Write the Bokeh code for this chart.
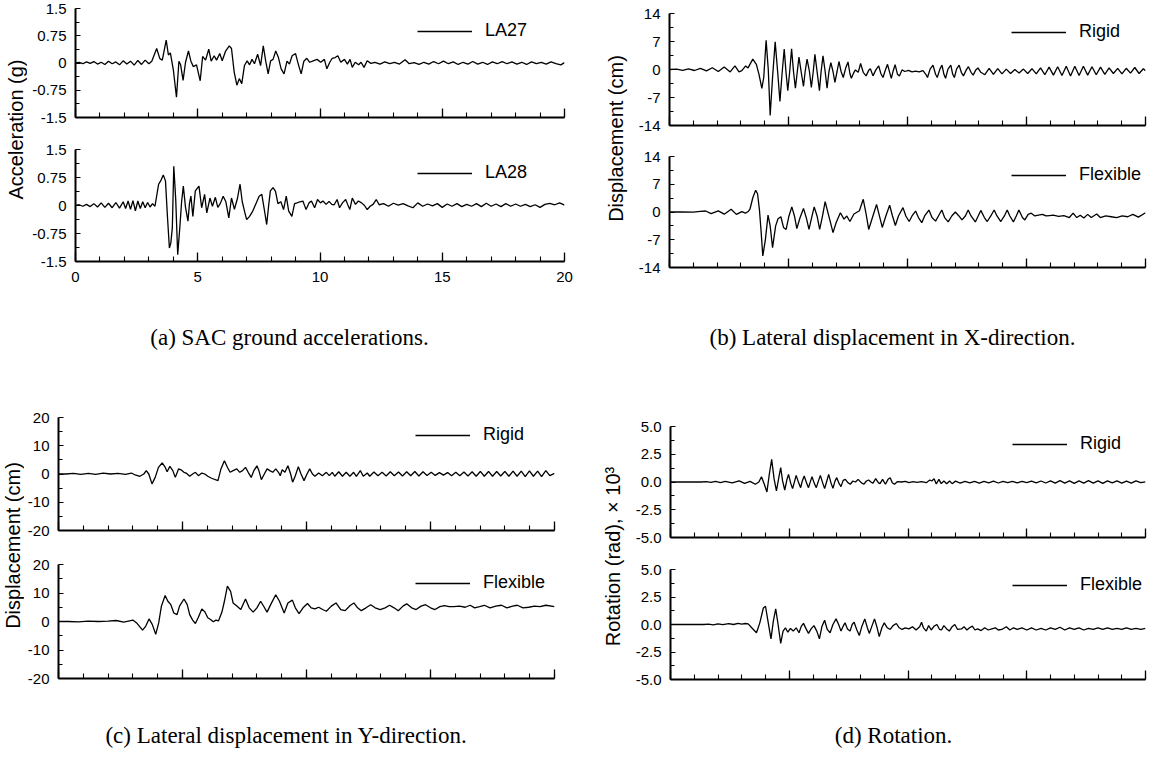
from bokeh.plotting import figure
from bokeh.models import Range1d, FixedTicker, Label, Legend, LegendItem, ColumnDataSource
from bokeh.layouts import row, column
from bokeh.embed import file_html
from bokeh.resources import INLINE

SANS = "Liberation Sans"
SERIF = "Liberation Serif"

# ---------------- data (time s, value) ----------------
X_MAJOR = [0, 5, 10, 15, 20]
X_MINOR = list(range(0, 21))
X_LABELS = ["0", "5", "10", "15", "20"]

ACC_TICKS = [-1.5, -0.75, 0.0, 0.75, 1.5]
ACC_MINOR = [-1.125, -0.375, 0.375, 1.125]
ACC_LABELS = ["-1.5", "-0.75", "0", "0.75", "1.5"]

DX_TICKS = [-14, -7, 0, 7, 14]
DX_MINOR = [-10.5, -3.5, 3.5, 10.5]
DX_LABELS = ["-14", "-7", "0", "7", "14"]

DY_TICKS = [-20, -10, 0, 10, 20]
DY_MINOR = [-15, -5, 5, 15]
DY_LABELS = ["-20", "-10", "0", "10", "20"]

ROT_TICKS = [-5.0, -2.5, 0.0, 2.5, 5.0]
ROT_MINOR = [-3.75, -1.25, 1.25, 3.75]
ROT_LABELS = ["-5.0", "-2.5", "0.0", "2.5", "5.0"]

LA27 = [[0,0],[0.15,0.02],[0.3,-0.02],[0.45,0.03],[0.6,-0.01],[0.75,0.04],[0.9,-0.03],[1.05,0.02],
 [1.2,-0.04],[1.35,0.05],[1.5,-0.02],[1.65,0.03],[1.8,-0.05],[1.95,0.06],[2.1,-0.03],[2.25,0.05],
 [2.4,-0.06],[2.55,0.07],[2.7,-0.04],[2.85,0.08],[3.0,-0.02],[3.12,0.05],[3.32,0.40],[3.45,0.12],
 [3.55,0.08],[3.71,0.63],[3.80,0.22],[3.88,0.28],[4.00,-0.18],[4.13,-0.94],[4.23,0.05],[4.30,-0.05],
 [4.40,-0.48],[4.50,0.02],[4.62,0.33],[4.72,0.05],[4.82,-0.10],[4.95,-0.05],[5.10,-0.49],[5.20,0.18],
 [5.32,0.08],[5.45,0.38],[5.55,0.05],[5.67,0.20],[5.77,0.08],[5.90,0.26],[6.00,0.06],[6.14,0.33],
 [6.29,0.47],[6.38,0.40],[6.49,-0.25],[6.60,-0.61],[6.70,-0.43],[6.80,-0.57],[6.91,-0.07],[7.02,0.06],
 [7.12,-0.05],[7.22,0.10],[7.32,-0.02],[7.45,0.24],[7.57,-0.07],[7.68,0.47],[7.78,0.05],[7.88,-0.30],
 [7.98,0.06],[8.08,0.10],[8.19,0.33],[8.30,0.15],[8.41,-0.16],[8.53,-0.30],[8.65,0.05],[8.75,-0.03],
 [8.86,0.20],[9.00,0.26],[9.12,-0.05],[9.23,-0.30],[9.34,0.05],[9.46,0.13],[9.58,0.02],[9.72,0.06],
 [9.88,0.10],[10.03,0.02],[10.18,0.10],[10.28,-0.16],[10.40,0.02],[10.50,0.13],[10.62,0.15],[10.73,0.20],
 [10.85,0.02],[11.00,0.10],[11.12,-0.03],[11.23,0.10],[11.32,-0.12],[11.44,0.02],[11.58,-0.05],[11.68,0.02],
 [11.80,-0.12],[11.93,0.06],[12.08,-0.01],[12.25,0.02],[12.45,-0.03],[12.65,0.03],[12.85,-0.02],[13.05,0.02],
 [13.25,-0.03],[13.48,0.09],[13.65,-0.02],[13.85,0.01],[14.05,-0.04],[14.25,0.02],[14.45,-0.03],[14.65,0.04],
 [14.85,-0.02],[15.05,0.05],[15.25,-0.02],[15.45,0.03],[15.65,-0.04],[15.85,0.02],[16.05,-0.03],[16.25,0.04],
 [16.45,-0.03],[16.65,0.02],[16.85,-0.04],[17.05,0.03],[17.25,-0.02],[17.45,0.04],[17.65,-0.02],[17.85,0.03],
 [18.05,-0.03],[18.25,0.02],[18.45,-0.04],[18.65,0.03],[18.85,-0.02],[19.05,0.02],[19.25,-0.03],[19.45,0.03],
 [19.65,-0.02],[19.85,-0.05],[20.0,0.01]]

LA28 = [[0,0],[0.15,0.02],[0.3,-0.02],[0.45,0.03],[0.6,-0.03],[0.75,0.05],[0.9,-0.04],[1.05,0.07],
 [1.2,-0.05],[1.35,0.06],[1.5,-0.06],[1.65,0.08],[1.8,-0.07],[1.95,0.10],[2.05,-0.08],[2.15,0.12],
 [2.25,-0.10],[2.35,0.13],[2.45,-0.14],[2.55,0.12],[2.65,-0.08],[2.75,0.10],[2.85,-0.06],[2.95,0.08],
 [3.05,-0.04],[3.15,0.05],[3.25,-0.02],[3.40,0.57],[3.50,0.68],[3.59,0.82],[3.68,0.66],[3.76,-0.29],
 [3.84,-1.14],[3.90,-1.00],[3.96,-0.60],[4.02,1.05],[4.10,0.15],[4.18,-1.32],[4.27,-0.56],[4.34,0.10],
 [4.41,0.52],[4.50,-0.05],[4.60,-0.42],[4.66,0.05],[4.72,0.25],[4.80,-0.29],[4.90,0.39],[5.05,0.52],
 [5.16,-0.06],[5.28,0.30],[5.37,-0.20],[5.50,0.20],[5.60,-0.02],[5.72,0.22],[5.82,-0.05],[5.92,0.05],
 [6.04,0.25],[6.15,0.10],[6.27,-0.33],[6.38,0.20],[6.50,-0.10],[6.62,0.18],[6.73,0.57],[6.82,0.10],
 [6.93,-0.20],[7.00,-0.38],[7.12,-0.29],[7.25,-0.15],[7.38,0.05],[7.51,0.25],[7.62,0.30],[7.72,-0.10],
 [7.82,-0.51],[7.90,0.00],[7.97,0.39],[8.08,0.48],[8.18,0.38],[8.28,0.05],[8.40,0.10],[8.51,-0.11],
 [8.62,0.25],[8.72,-0.15],[8.85,-0.29],[8.96,0.05],[9.06,0.07],[9.18,0.10],[9.30,0.12],[9.43,-0.11],
 [9.55,0.07],[9.65,0.12],[9.78,-0.06],[9.90,0.16],[10.02,0.07],[10.12,0.12],[10.25,0.03],[10.37,0.11],
 [10.48,0.03],[10.58,0.02],[10.70,0.16],[10.80,-0.06],[10.92,0.07],[11.05,0.16],[11.13,0.03],[11.22,-0.11],
 [11.32,0.20],[11.45,0.03],[11.57,0.12],[11.70,0.07],[11.82,0.00],[11.93,-0.11],[12.05,-0.02],[12.17,0.03],
 [12.30,0.16],[12.42,0.02],[12.6,0.05],[12.8,-0.02],[13.0,0.06],[13.2,0.01],[13.4,0.05],[13.6,-0.01],
 [13.8,-0.06],[14.0,0.07],[14.2,-0.02],[14.4,0.04],[14.6,-0.01],[14.8,0.05],[15.0,-0.05],[15.2,0.04],
 [15.4,-0.02],[15.6,0.05],[15.8,-0.03],[16.0,0.03],[16.2,-0.02],[16.4,0.05],[16.6,-0.03],[16.8,0.06],
 [17.0,-0.02],[17.2,0.04],[17.4,-0.03],[17.6,0.05],[17.8,-0.02],[18.0,0.04],[18.2,-0.02],[18.4,0.03],
 [18.6,-0.03],[18.8,0.02],[19.0,-0.05],[19.2,0.03],[19.4,0.06],[19.6,0.02],[19.8,0.07],[20.0,0.01]]

RIGID_X = [[0,0],[0.3,0.1],[0.55,-0.2],[0.8,0.15],[1.05,-0.25],[1.3,0.3],[1.55,-0.35],[1.8,0.45],
 [2.05,-0.5],[2.3,0.6],[2.55,-0.6],[2.75,0.9],[2.92,-0.6],[3.04,-0.3],[3.20,0.9],[3.30,0.4],[3.50,2.6],
 [3.65,1.3],[3.76,-1.2],[3.88,-4.7],[3.96,-2.0],[4.06,7.3],[4.15,0.0],[4.23,-11.5],[4.33,-2.0],[4.44,6.9],
 [4.55,-1.0],[4.64,-8.0],[4.73,-1.0],[4.82,5.1],[4.90,-1.0],[4.97,-5.3],[5.05,-0.5],[5.13,5.2],[5.21,-0.5],
 [5.29,-4.7],[5.37,-0.5],[5.44,3.1],[5.53,-0.5],[5.63,-4.2],[5.70,-0.5],[5.78,2.6],[5.88,-0.5],[5.96,-4.5],
 [6.04,-0.5],[6.11,3.8],[6.20,-0.5],[6.30,-5.3],[6.37,-0.5],[6.45,3.4],[6.54,-0.5],[6.62,-4.7],[6.70,-0.5],
 [6.78,1.7],[6.87,-0.5],[6.95,-3.2],[7.04,-0.5],[7.12,2.0],[7.21,-0.5],[7.30,-2.0],[7.40,0.3],[7.50,1.9],
 [7.58,-1.0],[7.64,-2.2],[7.75,-0.7],[7.81,-0.1],[7.93,-0.7],[8.03,1.5],[8.14,-0.7],[8.26,-1.6],[8.38,-0.1],
 [8.44,0.2],[8.55,-1.6],[8.67,-0.1],[8.79,0.9],[8.88,-1.0],[8.97,-2.0],[9.06,-0.3],[9.16,1.3],[9.25,-0.7],
 [9.32,-2.2],[9.40,-0.3],[9.48,1.2],[9.58,-1.2],[9.66,-1.6],[9.77,-0.1],[9.89,-0.5],[10.04,-0.2],[10.19,-0.6],
 [10.34,-0.4],[10.49,-0.6],[10.65,-0.3],[10.77,-1.2],[10.84,-2.0],[10.95,0.1],[11.07,1.1],[11.18,-1.2],
 [11.25,-2.0],[11.36,0.1],[11.45,1.1],[11.53,-1.2],[11.60,-2.2],[11.70,0.1],[11.82,1.1],[11.90,-1.2],
 [11.97,-2.0],[12.06,0.1],[12.17,1.1],[12.26,-0.7],[12.35,-1.6],[12.47,-0.1],[12.56,0.7],[12.67,-0.7],
 [12.76,-1.4],[12.87,-0.1],[12.96,0.4],[13.08,-0.7],[13.25,-1.3],[13.43,0.3],[13.61,-1.2],[13.79,0.2],
 [13.97,-1.1],[14.15,0.1],[14.33,-1.0],[14.51,0.0],[14.69,-0.9],[14.87,0.1],[15.05,-1.0],[15.23,0.2],
 [15.41,-1.1],[15.59,0.4],[15.77,-1.3],[15.95,0.6],[16.13,-1.4],[16.31,0.7],[16.49,-1.5],[16.67,0.8],
 [16.85,-1.6],[17.03,0.8],[17.21,-1.5],[17.39,0.8],[17.57,-1.4],[17.75,0.7],[17.93,-1.3],[18.11,0.6],
 [18.29,-1.2],[18.47,0.4],[18.65,-1.0],[18.83,0.3],[19.01,-1.1],[19.19,0.3],[19.37,-0.9],[19.55,0.5],
 [19.73,-1.0],[19.91,0.2],[20.0,-0.3]]

FLEX_X = [[0,0],[0.5,0.05],[1.0,-0.05],[1.3,0.15],[1.52,0.25],[1.75,-0.4],[2.05,0.3],[2.3,-0.55],
 [2.59,0.7],[2.81,-0.6],[3.04,0.1],[3.19,-0.3],[3.32,0.2],[3.38,0.7],[3.50,3.6],[3.62,5.5],[3.70,4.6],
 [3.78,0.5],[3.85,-5.0],[3.92,-11.1],[4.03,-6.9],[4.14,-0.8],[4.23,-3.5],[4.33,-9.0],[4.46,-3.5],
 [4.56,-1.7],[4.68,-1.2],[4.79,-3.9],[4.90,-4.4],[5.02,-1.0],[5.14,1.3],[5.25,-1.0],[5.35,-4.2],
 [5.48,-1.5],[5.63,0.9],[5.75,-1.5],[5.86,-4.4],[5.97,-1.5],[6.08,1.3],[6.20,-1.0],[6.31,-4.4],
 [6.43,-1.0],[6.54,2.6],[6.66,-0.2],[6.80,-3.5],[6.87,-5.2],[7.00,-2.7],[7.18,-0.2],[7.33,-1.8],
 [7.45,-1.0],[7.58,-2.4],[7.75,-0.5],[7.98,0.3],[8.14,3.2],[8.26,-0.5],[8.37,-4.4],[8.52,-1.5],
 [8.70,1.9],[8.82,-1.0],[8.94,-3.9],[9.09,-1.0],[9.25,1.7],[9.37,-1.0],[9.49,-3.4],[9.62,-1.0],
 [9.81,1.1],[9.93,-1.0],[10.07,-2.4],[10.19,-1.0],[10.34,0.25],[10.46,-1.4],[10.60,-2.7],[10.72,-1.0],
 [10.90,0.5],[11.03,-1.4],[11.18,-2.3],[11.30,-1.0],[11.44,0.5],[11.56,-1.4],[11.71,-2.5],[11.86,-1.0],
 [12.01,0.0],[12.16,-1.0],[12.29,-2.0],[12.43,-1.0],[12.55,0.5],[12.67,-1.0],[12.85,-2.5],[12.97,-1.0],
 [13.08,0.4],[13.23,-1.4],[13.35,-2.4],[13.50,-1.0],[13.64,0.5],[13.76,-1.0],[13.92,-2.4],[14.07,-1.0],
 [14.19,0.5],[14.30,-1.0],[14.45,-2.5],[14.57,-1.0],[14.68,0.5],[14.83,-1.4],[14.93,-2.0],[15.07,-0.6],
 [15.20,-0.3],[15.35,-1.0],[15.50,-0.8],[15.67,-0.6],[15.82,-1.0],[15.97,-0.9],[16.12,-0.8],[16.35,-1.1],
 [16.57,-0.9],[16.80,-1.4],[16.96,-0.3],[17.11,-1.4],[17.26,-0.8],[17.41,-1.5],[17.57,-0.6],[17.72,-1.4],
 [17.95,-0.5],[18.10,-1.4],[18.33,-1.0],[18.56,-1.2],[18.79,-1.4],[19.02,-1.0],[19.25,-1.2],[19.47,-0.6],
 [19.70,-1.3],[20.0,-0.2]]

RIGID_Y = [[0,0],[0.3,0.0],[0.6,0.2],[0.9,-0.1],[1.2,0.2],[1.5,-0.1],[1.8,0.3],[2.1,0.0],[2.4,0.2],
 [2.7,-0.1],[2.94,0.35],[3.09,-0.35],[3.28,-0.8],[3.44,0.0],[3.54,1.2],[3.64,0.0],[3.77,-3.5],[3.90,-1.2],
 [4.03,2.35],[4.18,3.9],[4.30,2.4],[4.38,0.8],[4.49,2.7],[4.61,1.2],[4.71,-1.2],[4.84,1.8],[4.94,1.5],
 [5.06,0.6],[5.17,0.2],[5.29,-0.8],[5.41,0.0],[5.52,0.6],[5.64,-0.6],[5.78,0.35],[5.90,0.0],[6.02,-0.8],
 [6.17,-1.5],[6.43,-2.35],[6.55,1.8],[6.69,4.7],[6.81,2.4],[6.92,0.6],[7.04,1.2],[7.19,1.8],[7.31,0.6],
 [7.42,1.2],[7.54,2.35],[7.65,0.6],[7.77,-1.2],[7.88,1.2],[8.00,2.9],[8.08,1.2],[8.18,-2.0],[8.30,0.0],
 [8.41,1.8],[8.52,1.2],[8.64,0.6],[8.76,1.8],[8.87,0.6],[8.94,-0.6],[9.02,1.5],[9.13,0.6],[9.25,2.9],
 [9.36,0.0],[9.44,-2.9],[9.55,-0.6],[9.67,2.6],[9.78,0.0],[9.90,-2.35],[10.02,0.0],[10.13,1.8],[10.24,0.0],
 [10.34,-0.8],[10.49,0.35],[10.64,-0.6],[10.80,0.6],[10.92,-0.6],[11.04,0.6],[11.14,-0.8],[11.30,0.8],
 [11.45,-0.8],[11.60,0.6],[11.75,-0.8],[11.90,0.6],[12.01,-0.8],[12.17,1.2],[12.29,-0.8],[12.45,0.35],
 [12.55,-0.8],[12.72,0.7],[12.88,-0.6],[13.05,0.6],[13.21,-0.7],[13.38,0.8],[13.54,-0.6],[13.71,0.7],
 [13.87,-0.7],[14.04,0.8],[14.20,-0.6],[14.37,0.9],[14.53,-0.7],[14.70,0.8],[14.86,-0.5],[15.03,0.6],
 [15.19,-0.5],[15.36,0.5],[15.52,-0.4],[15.69,0.5],[15.85,-0.6],[16.02,0.6],[16.18,-0.6],[16.35,0.7],
 [16.51,-0.7],[16.68,0.8],[16.84,-0.8],[17.01,0.9],[17.17,-0.8],[17.34,0.9],[17.50,-0.8],[17.67,0.9],
 [17.83,-0.7],[18.00,0.9],[18.16,-0.8],[18.33,1.0],[18.49,-0.8],[18.66,1.0],[18.82,-0.9],[18.99,1.1],
 [19.15,-0.8],[19.32,1.0],[19.48,-0.9],[19.65,1.2],[19.81,-0.6],[20.0,0.2]]

FLEX_Y = [[0,0],[0.4,0.0],[0.8,-0.1],[1.2,0.1],[1.6,0.0],[2.0,0.1],[2.33,0.35],[2.63,-0.2],[3.0,0.5],
 [3.15,-0.5],[3.39,-3.0],[3.52,-1.6],[3.65,0.9],[3.78,-1.0],[3.92,-4.5],[4.04,-0.5],[4.15,5.4],[4.30,9.1],
 [4.41,7.1],[4.53,5.9],[4.65,3.0],[4.78,2.4],[4.88,5.4],[5.06,7.9],[5.19,5.9],[5.29,2.4],[5.41,0.5],
 [5.52,-0.7],[5.63,1.3],[5.78,4.4],[5.90,3.4],[6.02,1.3],[6.13,0.7],[6.24,-0.1],[6.35,0.5],[6.45,0.2],
 [6.59,3.3],[6.69,7.1],[6.81,12.4],[6.94,10.6],[7.04,6.5],[7.19,5.4],[7.35,4.2],[7.54,7.9],[7.69,4.8],
 [7.85,3.3],[8.00,4.8],[8.15,7.1],[8.29,5.1],[8.41,3.3],[8.56,6.0],[8.76,9.4],[8.91,7.1],[9.10,3.0],
 [9.25,6.5],[9.43,7.5],[9.55,4.8],[9.70,2.8],[9.86,4.8],[10.04,6.3],[10.19,4.8],[10.34,4.4],[10.49,5.0],
 [10.65,4.2],[10.80,3.6],[11.00,5.4],[11.19,6.5],[11.38,4.2],[11.56,3.8],[11.76,5.6],[11.91,6.5],
 [12.06,4.8],[12.21,3.8],[12.40,4.8],[12.59,5.9],[12.77,4.8],[12.97,4.2],[13.17,4.8],[13.35,5.7],
 [13.53,4.8],[13.70,3.8],[13.89,5.4],[14.04,6.2],[14.24,4.8],[14.42,4.2],[14.62,5.4],[14.80,5.9],
 [15.00,4.8],[15.18,4.2],[15.38,5.2],[15.56,5.6],[15.75,5.2],[15.94,5.2],[16.17,5.4],[16.40,5.0],
 [16.60,5.7],[16.78,4.8],[16.98,5.2],[17.17,5.7],[17.40,4.8],[17.63,5.4],[17.86,5.7],[18.08,4.8],
 [18.31,5.4],[18.50,5.7],[18.73,4.8],[18.96,5.0],[19.19,5.4],[19.42,5.2],[19.65,5.7],[20.0,5.2]]

RIGID_R = [[0,0],[1.3,0.0],[1.5,0.03],[1.7,-0.04],[1.9,0.05],[2.1,-0.05],[2.3,0.06],[2.6,-0.07],
 [2.89,0.1],[3.12,-0.12],[3.35,0.06],[3.57,-0.2],[3.72,0.0],[3.83,0.48],[3.95,-0.2],[4.06,-0.9],
 [4.16,0.7],[4.26,2.04],[4.36,0.3],[4.46,-0.81],[4.56,0.4],[4.64,1.29],[4.72,0.1],[4.81,-0.72],
 [4.90,0.2],[4.97,0.69],[5.06,-0.1],[5.14,-0.6],[5.23,0.1],[5.29,0.6],[5.40,-0.1],[5.48,-0.51],
 [5.55,0.1],[5.63,0.54],[5.73,-0.1],[5.81,-0.51],[5.90,0.1],[5.96,0.48],[6.05,-0.1],[6.14,-0.51],
 [6.23,0.1],[6.31,0.6],[6.41,-0.1],[6.49,-0.6],[6.57,0.0],[6.66,0.69],[6.76,-0.1],[6.84,-0.57],
 [6.93,0.1],[7.00,0.39],[7.09,-0.1],[7.18,-0.42],[7.27,0.15],[7.36,0.24],[7.47,-0.06],[7.57,-0.2],
 [7.68,0.09],[7.79,0.0],[7.90,0.24],[8.03,-0.06],[8.14,-0.2],[8.25,0.09],[8.34,0.18],[8.44,0.0],
 [8.52,-0.12],[8.64,0.3],[8.75,-0.06],[8.82,-0.15],[8.93,0.24],[9.05,-0.2],[9.16,0.24],[9.25,0.39],
 [9.34,-0.06],[9.43,-0.2],[9.55,0.03],[9.73,0.0],[9.89,0.06],[10.04,-0.06],[10.22,0.03],[10.37,-0.03],
 [10.57,0.03],[10.77,-0.06],[10.92,0.18],[11.00,0.09],[11.10,0.3],[11.19,-0.18],[11.30,0.24],
 [11.40,-0.15],[11.51,0.09],[11.63,-0.15],[11.75,0.09],[11.86,-0.15],[12.0,0.08],[12.2,-0.1],
 [12.4,0.06],[12.6,-0.08],[12.8,0.06],[13.0,-0.1],[13.2,0.05],[13.4,-0.08],[13.6,0.07],[13.8,-0.09],
 [14.0,0.05],[14.2,-0.06],[14.4,0.05],[14.6,-0.07],[14.8,0.06],[15.0,-0.05],[15.2,0.07],[15.4,-0.08],
 [15.6,0.09],[15.8,-0.09],[16.0,0.1],[16.2,-0.1],[16.4,0.12],[16.6,-0.1],[16.8,0.1],[17.0,-0.12],
 [17.2,0.1],[17.4,-0.1],[17.6,0.12],[17.8,-0.1],[18.0,0.1],[18.2,-0.12],[18.4,0.1],[18.6,-0.08],
 [18.8,0.1],[19.0,-0.1],[19.2,0.08],[19.4,-0.1],[19.6,0.1],[19.8,-0.06],[20.0,0.02]]

FLEX_R = [[0,0],[1.4,0.0],[1.6,0.04],[1.8,-0.03],[2.0,0.06],[2.2,-0.02],[2.45,0.08],[2.65,0.0],
 [2.85,0.1],[3.0,0.03],[3.15,0.09],[3.27,0.06],[3.42,-0.3],[3.62,-0.75],[3.76,0.15],[3.91,1.5],
 [4.00,1.66],[4.12,0.1],[4.23,-1.3],[4.33,0.3],[4.43,1.42],[4.53,0.0],[4.64,-1.72],[4.74,-0.6],
 [4.84,-0.3],[4.94,-0.7],[5.05,-0.36],[5.17,-0.6],[5.29,-0.3],[5.41,-0.75],[5.51,-0.15],[5.60,0.1],
 [5.71,-0.4],[5.81,-0.81],[5.92,-0.4],[6.04,-0.1],[6.16,-0.6],[6.27,-1.3],[6.38,-0.15],[6.49,0.39],
 [6.60,-0.45],[6.72,-0.75],[6.84,0.0],[6.97,0.51],[7.08,0.0],[7.18,-0.6],[7.27,-0.15],[7.35,0.15],
 [7.45,-0.4],[7.56,-0.6],[7.65,0.0],[7.73,0.21],[7.84,-0.45],[7.95,-1.0],[8.06,-0.15],[8.18,0.51],
 [8.29,-0.3],[8.37,-0.81],[8.48,-0.15],[8.59,0.51],[8.70,-0.3],[8.79,-1.1],[8.90,-0.3],[9.00,0.15],
 [9.13,-0.3],[9.25,-0.45],[9.37,-0.1],[9.51,0.09],[9.63,-0.3],[9.75,-0.45],[9.89,-0.3],[10.04,-0.4],
 [10.19,-0.2],[10.34,-0.5],[10.49,-0.2],[10.57,0.21],[10.65,-0.3],[10.77,-0.6],[10.87,-0.1],[10.98,-0.5],
 [11.10,-0.15],[11.22,0.0],[11.33,-0.45],[11.41,-0.5],[11.51,-0.1],[11.63,-0.4],[11.74,-0.6],[11.86,-0.2],
 [11.97,0.0],[12.09,-0.45],[12.25,-0.4],[12.36,-0.2],[12.48,-0.5],[12.59,-0.3],[12.71,-0.15],[12.82,-0.5],
 [12.93,-0.4],[13.08,-0.55],[13.23,-0.3],[13.38,-0.5],[13.53,-0.4],[13.68,-0.3],[13.80,-0.5],[13.95,-0.45],
 [14.14,-0.2],[14.29,-0.5],[14.44,-0.3],[14.6,-0.45],[14.8,-0.3],[15.0,-0.5],[15.2,-0.3],[15.4,-0.5],
 [15.6,-0.35],[15.8,-0.5],[16.0,-0.3],[16.2,-0.45],[16.4,-0.25],[16.6,-0.5],[16.8,-0.3],[17.0,-0.45],
 [17.2,-0.3],[17.4,-0.5],[17.6,-0.35],[17.8,-0.45],[18.0,-0.3],[18.2,-0.45],[18.4,-0.3],[18.6,-0.45],
 [18.8,-0.35],[19.0,-0.45],[19.2,-0.3],[19.4,-0.45],[19.6,-0.35],[19.8,-0.45],[20.0,-0.36]]


def data_fig(series, name, w, h, bl, br, bt, bb, ticks, minor, labels, legend_loc, show_x_labels=False):
    p = figure(width=w, height=h, x_range=Range1d(0, 20),
               y_range=Range1d(ticks[0], ticks[-1]),
               output_backend="svg", toolbar_location=None, title=None,
               min_border_left=bl, min_border_right=br,
               min_border_top=bt, min_border_bottom=bb)
    p.outline_line_color = None
    p.xgrid.visible = False
    p.ygrid.visible = False

    xa = p.xaxis[0]
    xa.ticker = FixedTicker(ticks=X_MAJOR, minor_ticks=X_MINOR)
    xa.axis_line_width = 2
    xa.axis_line_color = "black"
    xa.major_tick_in = 9
    xa.major_tick_out = 0
    xa.minor_tick_in = 5
    xa.minor_tick_out = 0
    xa.major_tick_line_width = 1.3
    xa.minor_tick_line_width = 1.1
    xa.major_tick_line_color = "black"
    xa.minor_tick_line_color = "black"
    if show_x_labels:
        xa.major_label_overrides = {float(t): s for t, s in zip(X_MAJOR, X_LABELS)}
        xa.major_label_text_font = SANS
        xa.major_label_text_font_size = "15px"
        xa.major_label_text_color = "black"
        xa.major_label_standoff = 10
    else:
        # tick marks only: labels are not painted
        xa.major_label_text_font_size = "1px"
        xa.major_label_text_alpha = 0
        xa.major_label_standoff = 0

    ya = p.yaxis[0]
    ya.ticker = FixedTicker(ticks=ticks, minor_ticks=minor)
    ya.major_label_overrides = {float(t): s for t, s in zip(ticks, labels)}
    ya.axis_line_width = 2
    ya.axis_line_color = "black"
    ya.major_tick_in = 5
    ya.major_tick_out = 0
    ya.minor_tick_in = 4
    ya.minor_tick_out = 0
    ya.major_tick_line_width = 1.2
    ya.minor_tick_line_width = 1.1
    ya.major_tick_line_color = "black"
    ya.minor_tick_line_color = "black"
    ya.major_label_text_font = SANS
    ya.major_label_text_font_size = "15px"
    ya.major_label_text_color = "black"
    ya.major_label_standoff = 9

    src = ColumnDataSource(data=dict(t=[q[0] for q in series], v=[q[1] for q in series]))
    r = p.line(x="t", y="v", source=src, line_color="black", line_width=1.3)

    leg = Legend(items=[LegendItem(label=name, renderers=[r])], location=legend_loc,
                 padding=0, margin=0, spacing=0, border_line_color=None,
                 background_fill_alpha=0, glyph_width=55, glyph_height=20,
                 label_standoff=13, label_height=20,
                 label_text_font=SANS, label_text_font_size="18px",
                 label_text_color="black")
    p.add_layout(leg)
    return p


def blank_fig(w, h):
    p = figure(width=w, height=h, x_range=Range1d(0, 1), y_range=Range1d(0, 1),
               output_backend="svg", toolbar_location=None, title=None,
               x_axis_location=None, y_axis_location=None, min_border=0)
    p.outline_line_color = None
    p.xgrid.visible = False
    p.ygrid.visible = False
    return p


def title_fig(w, h, x, y, text):
    p = blank_fig(w, h)
    p.add_layout(Label(x=x, y=y, x_units="screen", y_units="screen", text=text,
                       angle=90, angle_units="deg", text_align="center",
                       text_baseline="middle", text_font=SANS,
                       text_font_size="20px", text_color="black"))
    return p


def caption_fig(w, h, x, y, text):
    p = blank_fig(w, h)
    p.add_layout(Label(x=x, y=y, x_units="screen", y_units="screen", text=text,
                       text_align="center", text_baseline="middle",
                       text_font=SERIF, text_font_size="23px", text_color="black"))
    return p


# ---- panel (a)
topA = data_fig(LA27, "LA27", 565, 132, 48, 28, 8, 15, ACC_TICKS, ACC_MINOR, ACC_LABELS, (342, 76))
botA = data_fig(LA28, "LA28", 565, 159, 48, 28, 17, 30, ACC_TICKS, ACC_MINOR, ACC_LABELS, (342, 78),
                show_x_labels=True)
labA = title_fig(27, 291, 15, 162, "Acceleration (g)")
capA = caption_fig(592, 81, 289, 35, "(a) SAC ground accelerations.")

# ---- panel (b)
topB = data_fig(RIGID_X, "Rigid", 517, 142, 37, 4, 13, 17, DX_TICKS, DX_MINOR, DX_LABELS, (342, 83))
botB = data_fig(FLEX_X, "Flexible", 517, 149, 37, 4, 14, 24, DX_TICKS, DX_MINOR, DX_LABELS, (342, 82))
labB = title_fig(40, 291, 23, 153, "Displacement (cm)")
capB = caption_fig(557, 81, 300, 35, "(b) Lateral displacement in X-direction.")

# ---- panel (c)
topC = data_fig(RIGID_Y, "Rigid", 568, 175, 33, 38, 45, 17, DY_TICKS, DY_MINOR, DY_LABELS, (357, 85))
botC = data_fig(FLEX_Y, "Flexible", 568, 145, 33, 38, 17, 14, DY_TICKS, DY_MINOR, DY_LABELS, (357, 85))
labC = title_fig(24, 320, 12, 147, "Displacement (cm)")
capC = caption_fig(592, 62, 286, 19, "(c) Lateral displacement in Y-direction.")

# ---- panel (d)
topD = data_fig(RIGID_R, "Rigid", 517, 180, 37, 4, 54, 15, ROT_TICKS, ROT_MINOR, ROT_LABELS, (342, 83))
botD = data_fig(FLEX_R, "Flexible", 517, 140, 37, 4, 17, 13, ROT_TICKS, ROT_MINOR, ROT_LABELS, (342, 84))
labD = title_fig(40, 320, 20, 136, "Rotation (rad), \u00d7 10\u00b3")
capD = caption_fig(557, 62, 301, 19, "(d) Rotation.")

blockA = column(row(labA, column(topA, botA)), capA)
blockB = column(row(labB, column(topB, botB)), capB)
blockC = column(row(labC, column(topC, botC)), capC)
blockD = column(row(labD, column(topD, botD)), capD)

layout = column(row(blockA, blockB), row(blockC, blockD))

open("out.html", "w").write(file_html(layout, INLINE))
